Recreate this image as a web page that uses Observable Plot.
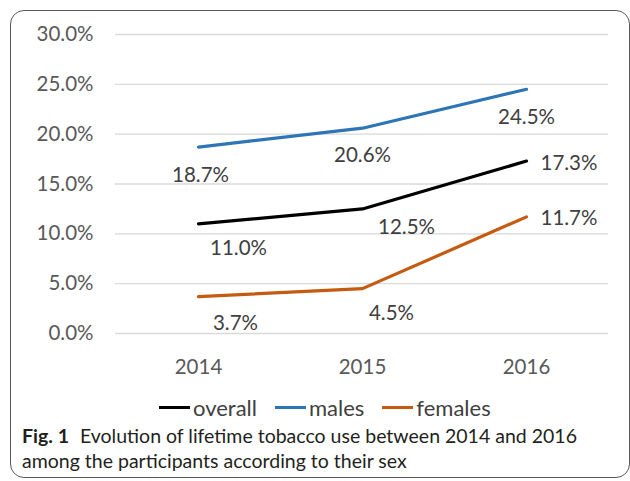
<!DOCTYPE html>
<html><head><meta charset="utf-8">
<script src="https://cdn.jsdelivr.net/npm/d3@7"></script>
<script src="https://cdn.jsdelivr.net/npm/@observablehq/plot@0.6"></script>
<style>
body{margin:0;background:#fff;width:630px;height:481px;overflow:hidden;position:relative;font-family:Lato,"Open Sans",sans-serif}
#frame{position:absolute;left:10px;top:10px;width:620px;height:468px;border:1.5px solid #5a5a5a;border-radius:14px;box-sizing:border-box}
#chart{position:absolute;left:0;top:0}
#legend{position:absolute;top:394px;left:159px;display:flex;align-items:center;font-size:22px;color:#404040;white-space:nowrap}
#legend .item{display:flex;align-items:center;margin-right:18px}
#legend .sw{width:31px;height:3px;margin-right:3px}
#caption{position:absolute;left:22px;top:423px;font-size:19.5px;line-height:25px;color:#231f20;white-space:nowrap}
#caption b{margin-right:6px}
</style></head>
<body>
<div id="frame"></div>
<div id="chart"></div>
<div id="legend"></div>
<div id="caption"><b>Fig. 1</b> Evolution of lifetime tobacco use between 2014 and 2016<br>among the participants according to their sex</div>
<script>
const years = [2014, 2015, 2016];
const seriesNames = ["overall", "males", "females"];
const overall = [0.110, 0.125, 0.173];
const males = [0.187, 0.206, 0.245];
const females = [0.037, 0.045, 0.117];
const seriesColors = ["#000000", "#2E75B6", "#C55A11"];
const yTicks = [0, 0.05, 0.10, 0.15, 0.20, 0.25, 0.30];

const valuesBySeries = {overall, males, females};
const data = seriesNames.flatMap(s => years.map((yr, i) => ({series: s, year: yr, value: valuesBySeries[s][i]})));

// label placement (labels were hand-placed in the original chart)
const labelPlacement = {
  overall: [[40, 25, "middle"], [44, 19, "middle"], [14, 2, "start"]],
  males:   [[2, 28, "middle"], [0, 27, "middle"], [0, 28, "middle"]],
  females: [[37, 27, "middle"], [29, 25, "middle"], [14, 2, "start"]]
};

const labelMarks = data.map(d => {
  const [dx, dy, anchor] = labelPlacement[d.series][years.indexOf(d.year)];
  return Plot.text([d], {x: "year", y: "value", text: v => d3.format(".1%")(v.value),
    dx, dy, textAnchor: anchor, fill: "#404040", fontSize: 20.5});
});

const chart = Plot.plot({
  width: 630, height: 390,
  marginLeft: 115, marginRight: 22, marginTop: 34, marginBottom: 57,
  style: {fontFamily: "Lato, 'Open Sans', sans-serif", fontSize: "20px", color: "#595959", background: "transparent"},
  x: {type: "point", domain: years, padding: 0.5, tickSize: 0, tickPadding: 26, label: null, tickFormat: d => String(d)},
  y: {domain: [0, 0.30], ticks: yTicks, tickSize: 0, tickPadding: 22, tickFormat: d3.format(".1%"), label: null},
  color: {domain: seriesNames, range: seriesColors},
  marks: [
    Plot.gridY(yTicks, {stroke: "#d9d9d9", strokeOpacity: 1, strokeWidth: 1.3}),
    Plot.axisY(yTicks, {tickSize: 0, tickPadding: 22, tickFormat: d3.format(".1%"), fill: "#595959", fontSize: 20.5, label: null}),
    Plot.axisX(years, {tickSize: 0, tickPadding: 26, fill: "#595959", fontSize: 20.5, label: null, tickFormat: d => String(d)}),
    Plot.line(data, {x: "year", y: "value", z: "series", stroke: "series", strokeWidth: 3.2}),
    ...labelMarks
  ]
});
document.getElementById("chart").appendChild(chart);

const legend = d3.select("#legend");
seriesNames.forEach((s, i) => {
  const it = legend.append("div").attr("class", "item");
  it.append("div").attr("class", "sw").style("background", seriesColors[i]);
  it.append("span").text(s);
});
</script>
</body></html>
